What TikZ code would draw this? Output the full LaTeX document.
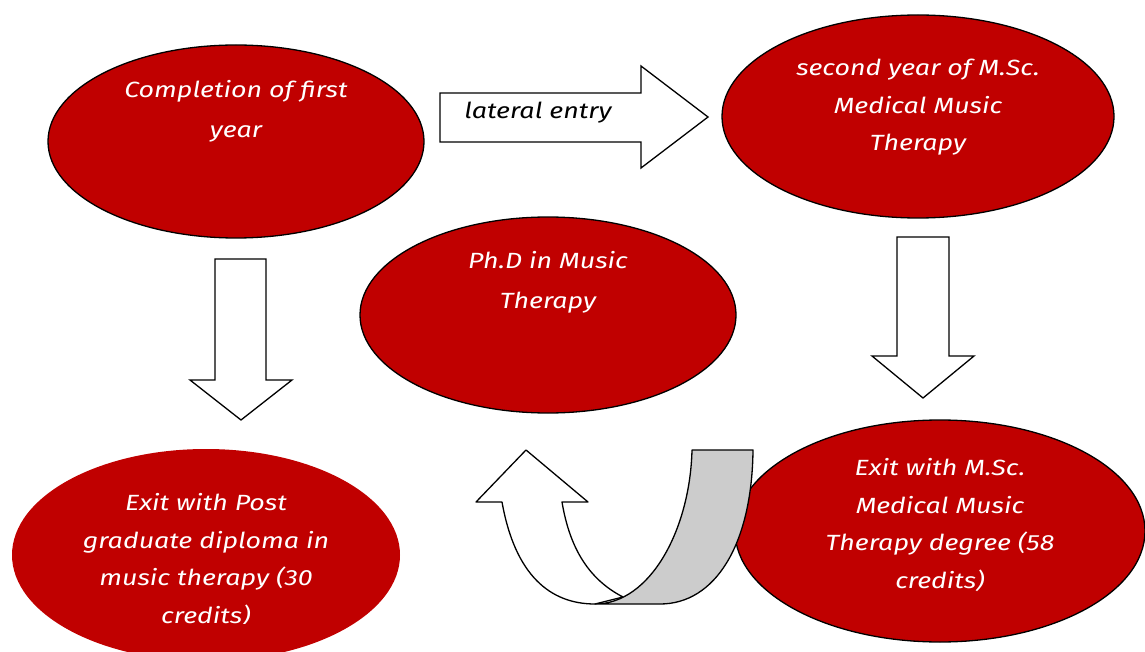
\documentclass[tikz,border=0pt]{standalone}
\usepackage{fontspec}
\setmainfont[FakeStretch=1.22]{Fira Sans}
\usetikzlibrary{shapes.geometric}
\definecolor{dred}{HTML}{C00000}
\definecolor{bandgray}{HTML}{CCCCCC}
\begin{document}
\begin{tikzpicture}[x=1pt,y=-1pt,
  oval/.style={ellipse, fill=dred, draw=black, line width=1.3pt, inner sep=0pt},
  lbl/.style={text=white, font=\itshape\fontsize{22}{37.5}\selectfont, align=center},
  lblw/.style={text=white, font=\itshape\fontsize{22}{40}\selectfont, align=center},
  blockarrow/.style={draw=black, fill=white, line width=1.3pt, line join=miter}]
\clip (0,0) rectangle (1145,652);
\fill[white] (0,0) rectangle (1145,652);
% ellipses
\node[oval, minimum width=376pt, minimum height=193pt] (first) at (236,141.5) {};
\node[lblw] (firstT) at (236,111) {Completion of first\\year};
\node[oval, minimum width=392pt, minimum height=203pt] (second) at (918,116.5) {};
\node[lbl] (secondT) at (918,107.5) {second year of M.Sc.\\Medical Music\\Therapy};
\node[oval, minimum width=376pt, minimum height=196pt] (phd) at (548,315) {};
\node[lblw] (phdT) at (548,282) {Ph.D in Music\\Therapy};
\node[oval, draw=none, minimum width=388pt, minimum height=212pt] (pgd) at (206,555) {};
\begin{scope}
\clip (0,0) rectangle (1145,623);
\node[lbl] (pgdT) at (206,560) {Exit with Post\\graduate diploma in\\music therapy (30\\credits)};
\end{scope}
\node[oval, minimum width=410pt, minimum height=222pt] (msc) at (940,531) {};
\node[lbl] (mscT) at (940,525) {Exit with M.Sc.\\Medical Music\\Therapy degree (58\\credits)};
% lateral entry arrow
\draw[blockarrow] (440,93) -- (641,93) -- (641,66) -- (708,117) -- (641,168) -- (641,142) -- (440,142) -- cycle;
\node[font=\itshape\fontsize{22}{24}\selectfont] (lat) at (538,113) {lateral entry};
% down arrows
\draw[blockarrow] (215,259) -- (266,259) -- (266,380) -- (292,380) -- (241,420) -- (190,380) -- (215,380) -- cycle;
\draw[blockarrow] (897,237) -- (949,237) -- (949,356) -- (974,356) -- (923,398) -- (872,356) -- (897,356) -- cycle;
% U-turn arrow
\draw[blockarrow, line join=round] (502,502) -- (476,502) -- (526,450) -- (588,502) -- (562,502)
  .. controls (570,550) and (590,580) .. (623,597)
  -- (595,604)
  .. controls (550,604) and (515,575) .. (502,502) -- cycle;
\draw[draw=black, fill=bandgray, line width=1.3pt, line join=round] (692,450) -- (753,450)
  .. controls (752,545) and (715,604) .. (660,604)
  -- (595,604)
  .. controls (650,604) and (690,530) .. (692,450) -- cycle;
\end{tikzpicture}
\end{document}
